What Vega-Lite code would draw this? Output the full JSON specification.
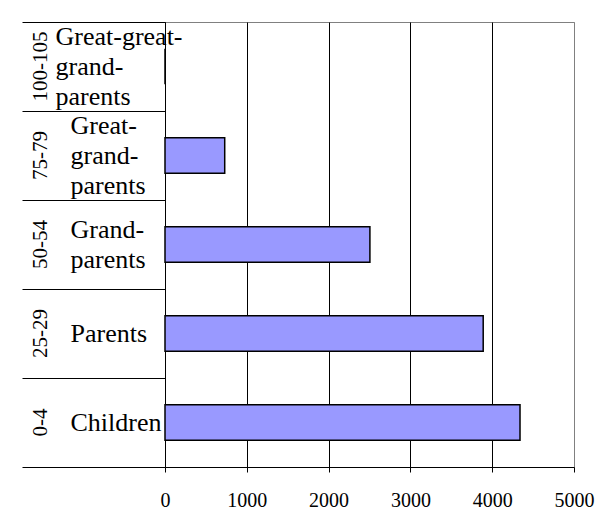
{
  "$schema": "https://vega.github.io/schema/vega-lite/v6.json",
  "autosize": {"type": "none"},
  "width": 409,
  "height": 445,
  "padding": {"left": 165, "top": 22, "right": 36, "bottom": 62},
  "background": "white",
  "data": {
    "values": [
      {"age": "100-105", "generation": "Great-great-grand-parents", "population": 0},
      {"age": "75-79", "generation": "Great-grand-parents", "population": 730},
      {"age": "50-54", "generation": "Grand-parents", "population": 2505},
      {"age": "25-29", "generation": "Parents", "population": 3890},
      {"age": "0-4", "generation": "Children", "population": 4340}
    ]
  },
  "layer": [
    {
      "mark": {"type": "bar", "fill": "#9999FF", "stroke": "black", "strokeWidth": 1.5, "height": {"band": 0.4}},
      "encoding": {
        "x": {
          "field": "population",
          "type": "quantitative",
          "scale": {"domain": [0, 5000], "nice": false},
          "axis": {
            "title": null,
            "values": [0, 1000, 2000, 3000, 4000, 5000],
            "format": "d",
            "grid": true,
            "gridColor": {"expr": "datum.value == 5000 ? '#808080' : 'black'"},
            "gridOpacity": 1,
            "gridWidth": 1,
            "domainColor": "black",
            "domainWidth": 1,
            "tickColor": "black",
            "tickSize": 5,
            "labelFont": "Liberation Serif",
            "labelFontSize": 20,
            "labelPadding": 18,
            "labelFlush": false
          }
        },
        "y": {
          "field": "generation",
          "type": "nominal",
          "sort": ["Great-great-grand-parents", "Great-grand-parents", "Grand-parents", "Parents", "Children"],
          "scale": {"paddingInner": 0, "paddingOuter": 0},
          "axis": {
            "title": null,
            "orient": "left",
            "tickBand": "extent",
            "tickSize": 143,
            "tickColor": "black",
            "domainColor": "black",
            "labelFont": "Liberation Serif",
            "labelFontSize": 26,
            "labelLineHeight": 30,
            "labelAlign": "left",
            "labelBaseline": "middle",
            "labelPadding": {"expr": "datum.value == 'Great-great-grand-parents' ? -33 : -48"},
            "labelOffset": {"expr": "datum.value == 'Great-great-grand-parents' || datum.value == 'Great-grand-parents' ? -30 : (datum.value == 'Grand-parents' ? -15 : 0)"},
            "labelExpr": "split(replace(datum.label, regexp('-(grand|parents)', 'g'), '-|$1'), '|')"
          }
        }
      }
    },
    {
      "mark": {"type": "bar", "opacity": 0},
      "encoding": {
        "y": {
          "field": "age",
          "type": "nominal",
          "sort": ["100-105", "75-79", "50-54", "25-29", "0-4"],
          "scale": {"paddingInner": 0, "paddingOuter": 0},
          "axis": {
            "title": null,
            "orient": "left",
            "domain": false,
            "ticks": false,
            "tickSize": 0,
            "labelAngle": -90,
            "labelAlign": "center",
            "labelBaseline": "middle",
            "labelFont": "Liberation Serif",
            "labelFontSize": 21,
            "labelPadding": 125
          }
        }
      }
    }
  ],
  "resolve": {"scale": {"y": "independent"}},
  "config": {
    "view": {"stroke": "#808080", "strokeWidth": 1},
    "axis": {"labelFont": "Liberation Serif", "labelColor": "black"}
  }
}
